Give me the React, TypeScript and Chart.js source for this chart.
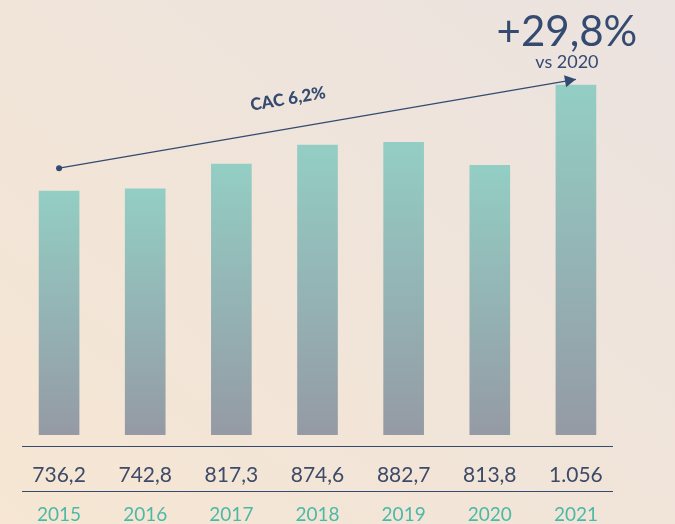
import React, { useEffect, useRef } from "react";
import { Chart, registerables } from "chart.js";

Chart.register(...registerables);

const years = ["2015", "2016", "2017", "2018", "2019", "2020", "2021"];
const values = [736.2, 742.8, 817.3, 874.6, 882.7, 813.8, 1056];
const valueLabels = ["736,2", "742,8", "817,3", "874,6", "882,7", "813,8", "1.056"];
const trendLine = [805, null, null, null, null, null, 1073];
const cagrLabel = "CAC 6,2%";
const growthLabel = "+29,8%";
const growthSub = "vs 2020";

const DARK = "#344a70";
const TEAL_TEXT = "#4bb9a6";

const overlayPlugin = {
  id: "overlay",
  afterDatasetsDraw(chart: any) {
    const ctx = chart.ctx;
    const x = chart.scales.x;
    ctx.save();
    const meta = chart.getDatasetMeta(1);
    const p0 = meta.data[0];
    const p1 = meta.data[6];
    const ang = Math.atan2(p1.y - p0.y, p1.x - p0.x);
    ctx.fillStyle = DARK;
    ctx.beginPath();
    ctx.moveTo(p1.x, p1.y);
    ctx.lineTo(p1.x - 11 * Math.cos(ang) + 6 * Math.sin(ang), p1.y - 11 * Math.sin(ang) - 6 * Math.cos(ang));
    ctx.lineTo(p1.x - 11 * Math.cos(ang) - 6 * Math.sin(ang), p1.y - 11 * Math.sin(ang) + 6 * Math.cos(ang));
    ctx.closePath();
    ctx.fill();
    ctx.save();
    ctx.translate(288, 99);
    ctx.rotate(ang);
    ctx.font = "900 17px Lato";
    ctx.textAlign = "center";
    ctx.textBaseline = "middle";
    ctx.fillText(cagrLabel, 0, 0);
    ctx.restore();
    const gx = x.getPixelForValue(6) - 9;
    ctx.font = "42px Lato";
    ctx.textAlign = "center";
    ctx.textBaseline = "alphabetic";
    ctx.fillText(growthLabel, gx, 46);
    ctx.font = "18px Lato";
    ctx.fillText(growthSub, gx, 68);
    ctx.strokeStyle = DARK;
    ctx.lineWidth = 1.2;
    ctx.beginPath();
    ctx.moveTo(22, 446.5);
    ctx.lineTo(613, 446.5);
    ctx.moveTo(22, 491.5);
    ctx.lineTo(613, 491.5);
    ctx.stroke();
    ctx.textAlign = "center";
    years.forEach((yr, i) => {
      const cx = x.getPixelForValue(i);
      ctx.fillStyle = "#3d4a68";
      ctx.font = "21px Lato";
      ctx.fillText(valueLabels[i], cx, 482);
      ctx.fillStyle = TEAL_TEXT;
      ctx.font = "19px Lato";
      ctx.fillText(yr, cx, 521);
    });
    ctx.restore();
  },
};

export default function App() {
  const ref = useRef<HTMLCanvasElement | null>(null);
  useEffect(() => {
    if (!ref.current) return;
    const chart = new Chart(ref.current, {
      type: "bar",
      data: {
        labels: years,
        datasets: [
          {
            type: "bar",
            data: values,
            barThickness: 40,
            order: 2,
            backgroundColor: (c: any) => {
              const ch = c.chart;
              const ys = ch.scales?.y;
              if (!ys || !c.parsed || c.parsed.y == null) return "#93cdc3";
              const top = ys.getPixelForValue(c.parsed.y);
              const bot = ys.getPixelForValue(0);
              if (!isFinite(top) || !isFinite(bot) || top === bot) return "#93cdc3";
              const g = ch.ctx.createLinearGradient(0, top, 0, bot);
              g.addColorStop(0, "#93cec4");
              g.addColorStop(1, "#959aa5");
              return g;
            },
          } as any,
          {
            type: "line",
            data: trendLine,
            spanGaps: true,
            borderColor: DARK,
            borderWidth: 1.2,
            pointRadius: [3, 0, 0, 0, 0, 0, 0],
            pointBackgroundColor: DARK,
            pointBorderWidth: 0,
            order: 1,
          } as any,
        ],
      },
      options: {
        animation: false,
        responsive: false,
        maintainAspectRatio: false,
        layout: { padding: { left: 16, right: 56, top: 0, bottom: 89 } },
        plugins: { legend: { display: false }, tooltip: { enabled: false } },
        scales: {
          x: { display: false, offset: true },
          y: { display: false, min: 0, max: 1300.4 },
        },
      },
      plugins: [overlayPlugin],
    });
    return () => chart.destroy();
  }, []);
  return (
    <div
      style={{
        position: "fixed",
        left: 0,
        top: 0,
        width: 675,
        height: 524,
        background: "linear-gradient(to top right, #f6e6d3, #ebe3e0)",
      }}
    >
      <canvas ref={ref} width={675} height={524} style={{ display: "block" }} />
    </div>
  );
}
